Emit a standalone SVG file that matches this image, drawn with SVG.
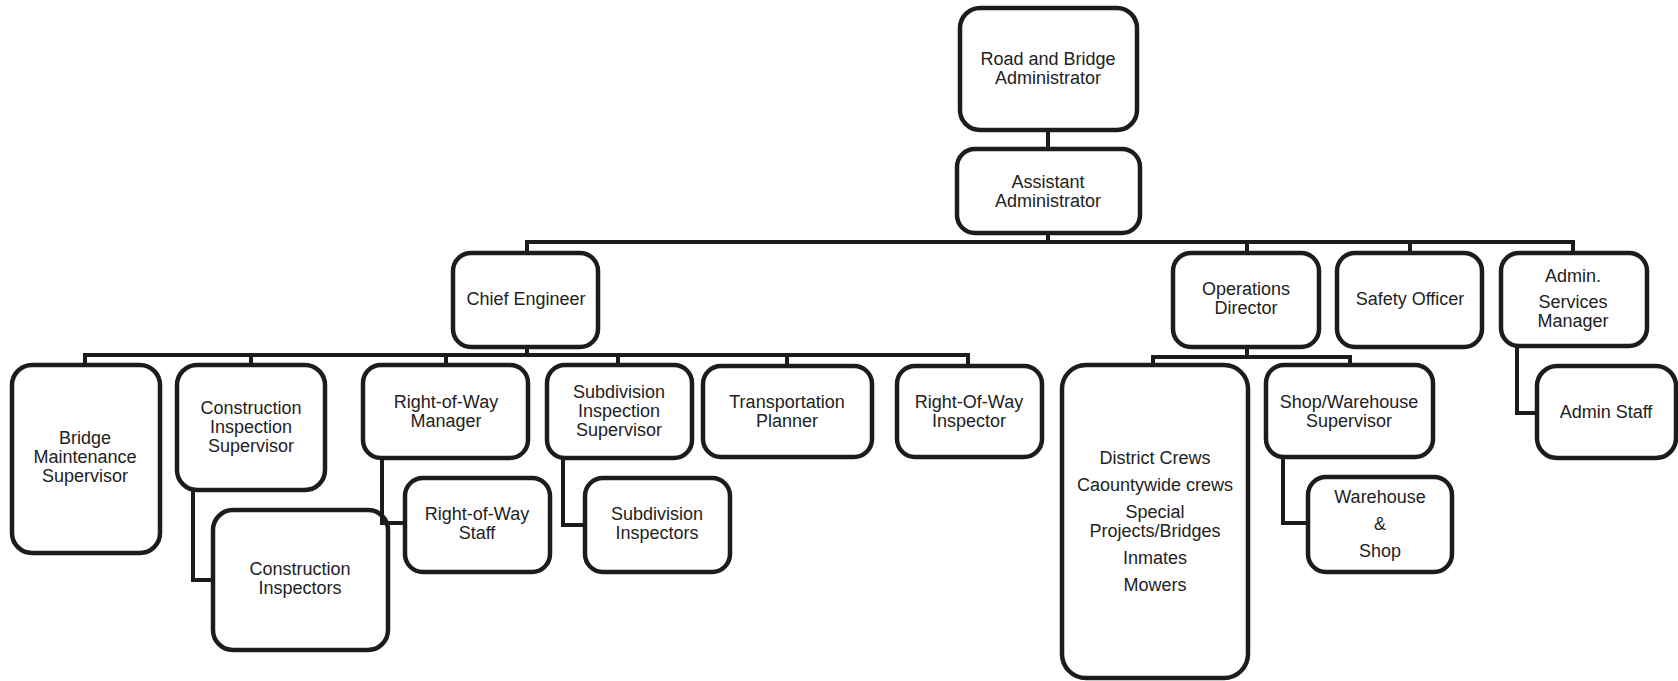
<svg xmlns="http://www.w3.org/2000/svg" width="1678" height="681" viewBox="0 0 1678 681">
  <style>
    .box { fill: #ffffff; stroke: #1c1c1c; stroke-width: 4.5; }
    .lbl { font-family: "Liberation Sans", Arial, sans-serif; font-size: 18px; fill: #222222; text-anchor: middle; }
    .wire { fill: none; stroke: #1c1c1c; stroke-width: 4; stroke-linejoin: miter; }
  </style>
  <rect width="1678" height="681" fill="#ffffff"/>

  <!-- Top level -->
  <g id="road-bridge-admin">
    <rect class="box" x="960" y="8" width="177" height="122" rx="20"/>
    <text class="lbl" x="1048" y="65">Road and Bridge</text>
    <text class="lbl" x="1048" y="84">Administrator</text>
  </g>
  <g id="assistant-admin">
    <rect class="box" x="957" y="149" width="183" height="84" rx="18"/>
    <text class="lbl" x="1048" y="188">Assistant</text>
    <text class="lbl" x="1048" y="207">Administrator</text>
  </g>

  <!-- Second level -->
  <g id="chief-engineer">
    <rect class="box" x="453" y="253" width="145" height="94" rx="18"/>
    <text class="lbl" x="526" y="305">Chief Engineer</text>
  </g>
  <g id="operations-director">
    <rect class="box" x="1173" y="253" width="146" height="94" rx="18"/>
    <text class="lbl" x="1246" y="295">Operations</text>
    <text class="lbl" x="1246" y="314">Director</text>
  </g>
  <g id="safety-officer">
    <rect class="box" x="1337" y="253" width="145" height="94" rx="18"/>
    <text class="lbl" x="1410" y="305">Safety Officer</text>
  </g>
  <g id="admin-services-manager">
    <rect class="box" x="1501" y="253" width="146" height="93" rx="18"/>
    <text class="lbl" x="1573" y="282">Admin.</text>
    <text class="lbl" x="1573" y="308">Services</text>
    <text class="lbl" x="1573" y="327">Manager</text>
  </g>

  <!-- Engineering branch -->
  <g id="bridge-maintenance-supervisor">
    <rect class="box" x="12" y="365" width="148" height="188" rx="20"/>
    <text class="lbl" x="85" y="444">Bridge</text>
    <text class="lbl" x="85" y="463">Maintenance</text>
    <text class="lbl" x="85" y="482">Supervisor</text>
  </g>
  <g id="construction-inspection-supervisor">
    <rect class="box" x="177" y="365" width="148" height="125" rx="20"/>
    <text class="lbl" x="251" y="414">Construction</text>
    <text class="lbl" x="251" y="433">Inspection</text>
    <text class="lbl" x="251" y="452">Supervisor</text>
  </g>
  <g id="construction-inspectors">
    <rect class="box" x="213" y="510" width="175" height="140" rx="20"/>
    <text class="lbl" x="300" y="575">Construction</text>
    <text class="lbl" x="300" y="594">Inspectors</text>
  </g>
  <g id="row-manager">
    <rect class="box" x="363" y="365" width="165" height="93" rx="18"/>
    <text class="lbl" x="446" y="408">Right-of-Way</text>
    <text class="lbl" x="446" y="427">Manager</text>
  </g>
  <g id="row-staff">
    <rect class="box" x="405" y="478" width="145" height="94" rx="18"/>
    <text class="lbl" x="477" y="520">Right-of-Way</text>
    <text class="lbl" x="477" y="539">Staff</text>
  </g>
  <g id="subdivision-inspection-supervisor">
    <rect class="box" x="547" y="365" width="145" height="93" rx="18"/>
    <text class="lbl" x="619" y="398">Subdivision</text>
    <text class="lbl" x="619" y="417">Inspection</text>
    <text class="lbl" x="619" y="436">Supervisor</text>
  </g>
  <g id="subdivision-inspectors">
    <rect class="box" x="585" y="478" width="145" height="94" rx="18"/>
    <text class="lbl" x="657" y="520">Subdivision</text>
    <text class="lbl" x="657" y="539">Inspectors</text>
  </g>
  <g id="transportation-planner">
    <rect class="box" x="703" y="366" width="169" height="91" rx="18"/>
    <text class="lbl" x="787" y="408">Transportation</text>
    <text class="lbl" x="787" y="427">Planner</text>
  </g>
  <g id="row-inspector">
    <rect class="box" x="897" y="366" width="145" height="91" rx="18"/>
    <text class="lbl" x="969" y="408">Right-Of-Way</text>
    <text class="lbl" x="969" y="427">Inspector</text>
  </g>

  <!-- Operations branch -->
  <g id="district-crews">
    <rect class="box" x="1062" y="365" width="186" height="313" rx="24"/>
    <text class="lbl" x="1155" y="464">District Crews</text>
    <text class="lbl" x="1155" y="491">Caountywide crews</text>
    <text class="lbl" x="1155" y="518">Special</text>
    <text class="lbl" x="1155" y="537">Projects/Bridges</text>
    <text class="lbl" x="1155" y="564">Inmates</text>
    <text class="lbl" x="1155" y="591">Mowers</text>
  </g>
  <g id="shop-warehouse-supervisor">
    <rect class="box" x="1266" y="365" width="167" height="92" rx="18"/>
    <text class="lbl" x="1349" y="408">Shop/Warehouse</text>
    <text class="lbl" x="1349" y="427">Supervisor</text>
  </g>
  <g id="warehouse-shop">
    <rect class="box" x="1308" y="477" width="144" height="95" rx="18"/>
    <text class="lbl" x="1380" y="503">Warehouse</text>
    <text class="lbl" x="1380" y="530">&amp;</text>
    <text class="lbl" x="1380" y="557">Shop</text>
  </g>

  <!-- Admin branch -->
  <g id="admin-staff">
    <rect class="box" x="1537" y="366" width="139" height="92" rx="20"/>
    <text class="lbl" x="1606" y="418">Admin Staff</text>
  </g>

  <!-- Reporting lines -->
  <g id="connectors">
    <path class="wire" d="M1048 130 V149"/>
    <path class="wire" d="M1048 233 V242"/>
    <path class="wire" d="M527 253 V242 H1573 V253"/>
    <path class="wire" d="M1247 242 V253"/>
    <path class="wire" d="M1410 242 V253"/>

    <path class="wire" d="M527 347 V355"/>
    <path class="wire" d="M85 365 V355 H968 V365"/>
    <path class="wire" d="M251 355 V365"/>
    <path class="wire" d="M446 355 V365"/>
    <path class="wire" d="M618 355 V365"/>
    <path class="wire" d="M787 355 V366"/>

    <path class="wire" d="M193 490 V580 H213"/>
    <path class="wire" d="M382 458 V523 H405"/>
    <path class="wire" d="M563 458 V525 H585"/>

    <path class="wire" d="M1247 347 V357"/>
    <path class="wire" d="M1153 365 V357 H1350 V365"/>
    <path class="wire" d="M1283 457 V523 H1308"/>

    <path class="wire" d="M1517 346 V413 H1537"/>
  </g>
</svg>
